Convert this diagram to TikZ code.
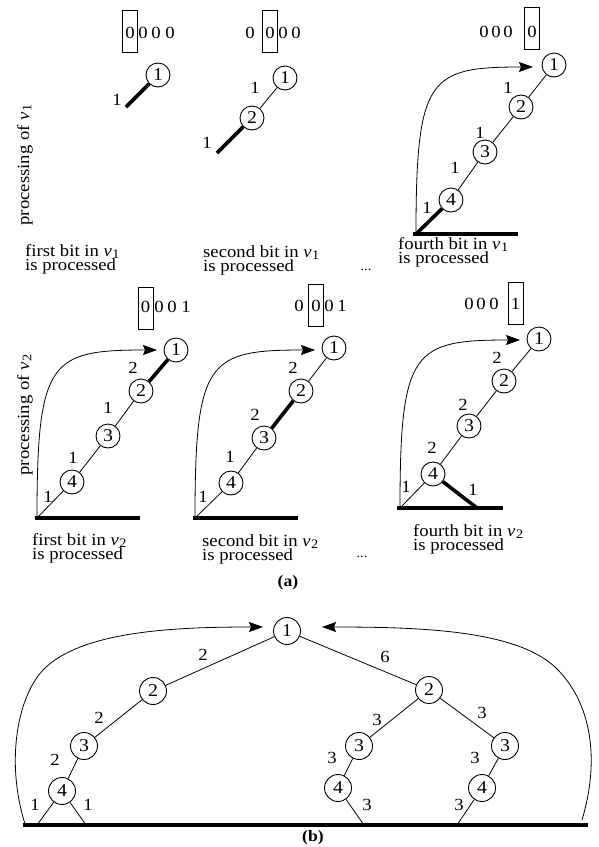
\documentclass[tikz,border=0pt]{standalone}
\usepackage{fontspec}
\setmainfont{Liberation Serif}[FakeStretch=1.1]
\usetikzlibrary{arrows.meta}
\newcommand\vv[1]{\textit{v}\kern0.5pt\raisebox{-0.3ex}{\fontsize{13}{13}\selectfont #1}}
\tikzset{
 vtx/.style={circle,draw,line width=0.9pt,minimum size=24pt,inner sep=0pt,font=\fontsize{18}{18}\selectfont},
 bvtx/.style={vtx,minimum size=27pt},
 lbl/.style={inner sep=0pt,font=\fontsize{17}{17}\selectfont},
 edg/.style={line width=0.8pt},
 hvy/.style={line width=3.6pt},
 grd/.style={line width=4pt},
 bitbox/.style={draw,line width=0.9pt,minimum width=15pt,minimum height=42pt,inner sep=0pt},
 bit/.style={inner sep=0pt,font=\fontsize{17}{17}\selectfont},
 capt/.style={anchor=base west,inner sep=0pt,font=\fontsize{17}{13}\selectfont},
 dots/.style={anchor=base,inner sep=0pt,font=\fontsize{13}{13}\selectfont},
 side/.style={rotate=90,inner sep=0pt,font=\fontsize{17}{17}\selectfont},
 arr/.style={line width=0.8pt,-{Stealth[length=14pt,width=10pt,inset=2pt]}},
 sub/.style={inner sep=0pt,font=\bfseries\fontsize{16}{16}\selectfont},
}
\begin{document}
\begin{tikzpicture}[x=1pt,y=-1pt]
\useasboundingbox (0,0) rectangle (599,847);

% ---------- row 1, panel 1
\node[bit] (a0) at (130,33) {0};
\node[bit] (a1) at (143,33) {0};
\node[bit] (a2) at (156,33) {0};
\node[bit] (a3) at (170,33) {0};
\node[bitbox] (abox) at (130,31) {};
\node[vtx] (ac1) at (158,75) {1};
\coordinate (ae) at (126,107);
\draw[hvy] (ac1) -- (ae);
\node[lbl] (al1) at (117,100) {1};

% ---------- row 1, panel 2
\node[bit] (b0) at (250,33) {0};
\node[bit] (b1) at (270,33) {0};
\node[bit] (b2) at (283,33) {0};
\node[bit] (b3) at (296,33) {0};
\node[bitbox] (bbox) at (270,31) {};
\node[vtx] (bc1) at (285,78) {1};
\node[vtx] (bc2) at (252,118) {2};
\coordinate (be) at (217,153);
\draw[edg] (bc1) -- (bc2);
\draw[hvy] (bc2) -- (be);
\node[lbl] (bl1) at (255,88) {1};
\node[lbl] (bl2) at (207,143) {1};

% ---------- row 1, panel 3
\node[bit] (c0) at (484,32) {0};
\node[bit] (c1b) at (496,32) {0};
\node[bit] (c2b) at (508,32) {0};
\node[bit] (c3b) at (532,32) {0};
\node[bitbox] (cbox) at (532,28) {};
\node[vtx] (cc1) at (554,65) {1};
\node[vtx] (cc2) at (521,107) {2};
\node[vtx] (cc3) at (485,152) {3};
\node[vtx] (cc4) at (451,200) {4};
\coordinate (cga) at (413,234);
\coordinate (cgb) at (518,234);
\coordinate (cs) at (416,234);
\coordinate (ct) at (533,67);
\draw[grd] (cga) -- (cgb);
\draw[edg] (cc1) -- (cc2) (cc2) -- (cc3) (cc3) -- (cc4);
\draw[hvy] (cc4) -- (cs);
\draw[arr] (cs) .. controls (416,77) and (429,67) .. (ct);
\node[lbl] (cl1) at (508,88) {1};
\node[lbl] (cl2) at (480,133) {1};
\node[lbl] (cl3) at (455,168) {1};
\node[lbl] (cl4) at (427,208) {1};

% ---------- row 2, panel 1
\node[bit] (d0) at (145.5,307) {0};
\node[bit] (d1) at (159,307) {0};
\node[bit] (d2) at (172,307) {0};
\node[bit] (d3) at (186,307) {1};
\node[bitbox] (dbox) at (145.5,308) {};
\node[vtx] (dc1) at (176,350) {1};
\node[vtx] (dc2) at (141,391) {2};
\node[vtx] (dc3) at (108,436) {3};
\node[vtx] (dc4) at (72,482) {4};
\coordinate (dga) at (35,518);
\coordinate (dgb) at (140,518);
\coordinate (ds) at (37,518);
\coordinate (dt) at (157,350);
\draw[grd] (dga) -- (dgb);
\draw[hvy] (dc1) -- (dc2);
\draw[edg] (dc2) -- (dc3) (dc3) -- (dc4) (dc4) -- (ds);
\draw[arr] (ds) .. controls (37,360) and (50,350) .. (dt);
\node[lbl] (dl1) at (133,368) {2};
\node[lbl] (dl2) at (108,408) {1};
\node[lbl] (dl3) at (73,458) {1};
\node[lbl] (dl4) at (48,497) {1};

% ---------- row 2, panel 2
\node[bit] (e0) at (299,306) {0};
\node[bit] (e1) at (316,306) {0};
\node[bit] (e2) at (329,306) {0};
\node[bit] (e3) at (342,306) {1};
\node[bitbox] (ebox) at (316,305) {};
\node[vtx] (ec1) at (334,348) {1};
\node[vtx] (ec2) at (301,391) {2};
\node[vtx] (ec3) at (264,438) {3};
\node[vtx] (ec4) at (231,483) {4};
\coordinate (ega) at (193,518);
\coordinate (egb) at (298,518);
\coordinate (es) at (195,518);
\coordinate (et) at (315,350);
\draw[grd] (ega) -- (egb);
\draw[edg] (ec1) -- (ec2) (ec3) -- (ec4) (ec4) -- (es);
\draw[hvy] (ec2) -- (ec3);
\draw[arr] (es) .. controls (195,360) and (208,350) .. (et);
\node[lbl] (el1) at (293,368) {2};
\node[lbl] (el2) at (255,415) {2};
\node[lbl] (el3) at (230,457) {1};
\node[lbl] (el4) at (203,497) {1};

% ---------- row 2, panel 3
\node[bit] (f0) at (469,304) {0};
\node[bit] (f1) at (481,304) {0};
\node[bit] (f2) at (494,304) {0};
\node[bit] (f3) at (515.5,304) {1};
\node[bitbox] (fbox) at (515.5,303) {};
\node[vtx] (fc1) at (539,339) {1};
\node[vtx] (fc2) at (504,381) {2};
\node[vtx] (fc3) at (469,426) {3};
\node[vtx] (fc4) at (433,474) {4};
\coordinate (fga) at (397,508);
\coordinate (fgb) at (503,508);
\coordinate (fs) at (400,508);
\coordinate (fr) at (477,508);
\coordinate (ft) at (520,340);
\draw[grd] (fga) -- (fgb);
\draw[edg] (fc1) -- (fc2) (fc2) -- (fc3) (fc3) -- (fc4) (fc4) -- (fs);
\draw[hvy] (fc4) -- (fr);
\draw[arr] (fs) .. controls (400,350) and (413,340) .. (ft);
\node[lbl] (fl1) at (497,358) {2};
\node[lbl] (fl2) at (463,405) {2};
\node[lbl] (fl3) at (432,448) {2};
\node[lbl] (fl4) at (406,487) {1};
\node[lbl] (fl5) at (473,490) {1};

% ---------- side labels and captions
\node[side] (s1) at (25,165) {processing of \vv1};
\node[side] (s2) at (25,415) {processing of \vv2};

\node[capt] (t1a) at (25,256) {first bit in \vv1};
\node[capt] (t1b) at (25,270) {is processed};
\node[capt] (t2a) at (203,257) {second bit in \vv1};
\node[capt] (t2b) at (203,271) {is processed};
\node[capt] (t3a) at (398,249) {fourth bit in \vv1};
\node[capt] (t3b) at (398,263) {is processed};
\node[dots] (t4) at (366,270) {...};

\node[capt] (u1a) at (32,545) {first bit in \vv2};
\node[capt] (u1b) at (32,559) {is processed};
\node[capt] (u2a) at (202,546) {second bit in \vv2};
\node[capt] (u2b) at (202,560) {is processed};
\node[capt] (u3a) at (413,536) {fourth bit in \vv2};
\node[capt] (u3b) at (413,550) {is processed};
\node[dots] (u4) at (362,557) {...};

\node[sub] (suba) at (288,583) {(a)};

% ---------- part (b)
\node[bvtx] (r1) at (287,631) {1};
\node[bvtx] (L2) at (153,691) {2};
\node[bvtx] (L3) at (84,746) {3};
\node[bvtx] (L4) at (62,791) {4};
\node[bvtx] (R2) at (429,690) {2};
\node[bvtx] (RL3) at (359,746) {3};
\node[bvtx] (RR3) at (505,746) {3};
\node[bvtx] (RL4) at (338,788) {4};
\node[bvtx] (RR4) at (482,788) {4};
\coordinate (ga) at (23,825);
\coordinate (gb) at (588,825);
\coordinate (gl1) at (37,825);
\coordinate (gl2) at (86,825);
\coordinate (gr1) at (364,825);
\coordinate (gr2) at (457,825);
\coordinate (cls) at (25,824);
\coordinate (clt) at (263,627);
\coordinate (crs) at (582,820);
\coordinate (crt) at (322,627);
\draw[grd] (ga) -- (gb);
\draw[edg] (r1) -- (L2) (L2) -- (L3) (L3) -- (L4) (L4) -- (gl1) (L4) -- (gl2);
\draw[edg] (r1) -- (R2) (R2) -- (RL3) (R2) -- (RR3) (RL3) -- (RL4) (RR3) -- (RR4)
  (RL4) -- (gr1) (RR4) -- (gr2);
\draw[arr] (cls) .. controls (5,760) and (18,694) .. (45,668)
  .. controls (85,630) and (180,627) .. (clt);
\draw[arr] (crs) .. controls (600,760) and (592,702) .. (555,667)
  .. controls (515,630) and (420,627) .. (crt);
\node[lbl] (bl-a) at (203,655) {2};
\node[lbl] (bl-b) at (99,718) {2};
\node[lbl] (bl-c) at (55,760) {2};
\node[lbl] (bl-d) at (35,805) {1};
\node[lbl] (bl-e) at (88,805) {1};
\node[lbl] (bl-f) at (385,657) {6};
\node[lbl] (bl-g) at (377,720) {3};
\node[lbl] (bl-h) at (482,713) {3};
\node[lbl] (bl-i) at (332,758) {3};
\node[lbl] (bl-j) at (475,758) {3};
\node[lbl] (bl-k) at (367,805) {3};
\node[lbl] (bl-l) at (459,805) {3};

\node[sub] (subb) at (313,838) {(b)};
\end{tikzpicture}
\end{document}
